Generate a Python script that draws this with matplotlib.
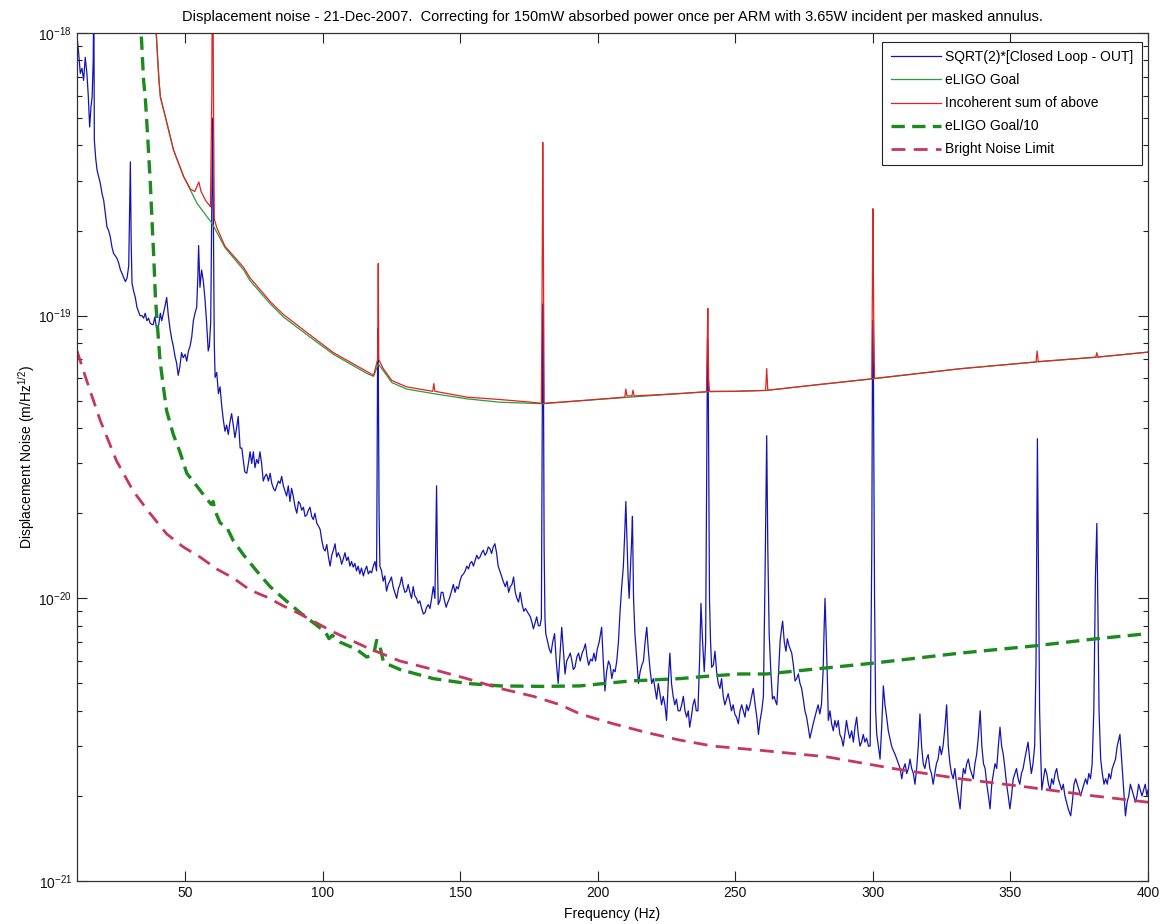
#!/usr/bin/env python3
# -*- coding: utf-8 -*-
"""
Displacement noise spectrum, 21-Dec-2007 (values read off the original plot).
All amplitudes below are in units of 1e-20 m/Hz^(1/2).
"""

import numpy as np
import matplotlib
matplotlib.use("Agg")
import matplotlib.pyplot as plt
from matplotlib.ticker import FixedLocator, NullFormatter, LogFormatterSciNotation

UNIT = 1e-20

# SQRT(2)*[Closed Loop - OUT]  (freq Hz, amplitude)
closed_loop = [
    (10.7, 97), (11.3, 85), (11.9, 72), (12.5, 75), (13.1, 68), (13.7, 82), (14.3, 72),
    (14.8, 60), (15.3, 46.5), (15.8, 55), (16.2, 59.5), (16.6, 80), (16.8, 150), (17.0, 41.8),
    (17.5, 36), (18.0, 32.7), (18.6, 31), (19.2, 29.3), (19.8, 27), (20.4, 25.6), (21.0, 23),
    (21.6, 20.6), (22.2, 20), (22.8, 19.0), (23.4, 17.5), (24.0, 16.6), (24.8, 16.2),
    (25.4, 15.8), (25.9, 15.3), (26.5, 14.5), (27.1, 14.1), (27.7, 13.6), (28.3, 13.2),
    (28.9, 13.6), (29.5, 15), (29.9, 26), (30.1, 35), (30.4, 18), (30.7, 13.0), (31.3, 12.2),
    (31.9, 11.6), (32.5, 10.7), (33.1, 10.3), (33.6, 10.0), (34.3, 10.0), (34.9, 9.8),
    (35.5, 10.2), (36.1, 9.6), (36.7, 9.8), (37.3, 9.4), (38.0, 9.3), (38.4, 9.3), (39.0, 9.9),
    (39.7, 8.9), (40.4, 9.3), (41.0, 10.2), (41.5, 9.6), (42.1, 10.2), (42.7, 10.8),
    (43.3, 11.6), (43.9, 10.0), (44.5, 9.0), (45.1, 8.3), (45.7, 7.8), (46.3, 7.2), (46.9, 6.8),
    (47.5, 6.15), (48.1, 6.6), (48.7, 7.4), (49.3, 7.1), (50.0, 7.3), (50.6, 6.9), (51.2, 7.5),
    (51.8, 7.8), (52.4, 8.4), (53.0, 9.6), (53.6, 10.2), (54.2, 10.7), (54.6, 13.5),
    (54.9, 17.7), (55.4, 12.6), (56.0, 14.5), (56.6, 13.3), (57.2, 11.5), (57.8, 9.5),
    (58.4, 7.5), (58.8, 7.8), (59.3, 9.5), (59.7, 25), (60.0, 50), (60.3, 20), (60.6, 8),
    (60.9, 6.05), (61.5, 6.3), (62.1, 5.3), (62.7, 5.6), (63.3, 4.8), (63.9, 4.27), (64.5, 3.9),
    (65.1, 4.1), (65.7, 3.8), (66.3, 4.2), (66.9, 4.5), (67.5, 4.1), (68.1, 3.7), (68.7, 4.0),
    (69.3, 4.4), (70.0, 3.4), (70.6, 3.4), (71.1, 3.1), (71.7, 2.8), (72.4, 2.77), (73.0, 3.0),
    (73.6, 3.3), (74.2, 3.0), (74.8, 3.3), (75.4, 2.9), (76.0, 3.1), (76.6, 3.0), (77.2, 3.3),
    (77.8, 3.0), (78.4, 2.6), (79.0, 2.7), (79.6, 2.75), (80.3, 2.6), (80.9, 2.77), (81.5, 2.55),
    (82.1, 2.45), (82.7, 2.4), (83.3, 2.5), (83.9, 2.6), (84.5, 2.55), (85.1, 2.7), (85.7, 2.5),
    (86.3, 2.4), (86.9, 2.3), (87.5, 2.5), (88.1, 2.2), (88.7, 2.45), (89.3, 2.3), (90.0, 2.1),
    (90.6, 2.0), (91.2, 2.2), (91.8, 2.16), (92.4, 2.05), (93.0, 2.1), (93.6, 1.95),
    (94.2, 1.97), (94.8, 2.05), (95.4, 2.1), (96.0, 1.95), (96.6, 1.9), (97.2, 2.0),
    (97.9, 1.84), (98.5, 1.8), (99.1, 1.75), (99.7, 1.6), (100.3, 1.5), (100.9, 1.47),
    (101.5, 1.55), (102.1, 1.4), (102.7, 1.3), (103.3, 1.42), (103.9, 1.48), (104.5, 1.56),
    (105.1, 1.4), (105.7, 1.45), (106.3, 1.4), (106.9, 1.32), (107.5, 1.38), (108.1, 1.45),
    (108.7, 1.36), (109.3, 1.4), (109.9, 1.3), (110.5, 1.35), (111.1, 1.29), (111.7, 1.33),
    (112.3, 1.25), (112.9, 1.3), (113.5, 1.22), (114.1, 1.28), (114.8, 1.2), (115.4, 1.26),
    (116.0, 1.3), (116.6, 1.22), (117.2, 1.25), (117.8, 1.23), (118.4, 1.3), (119.0, 1.35),
    (119.6, 1.25), (119.8, 3), (120.0, 9), (120.2, 7), (120.5, 2), (120.8, 1.3), (121.4, 1.25),
    (122.0, 1.15), (122.6, 1.2), (123.2, 1.06), (123.8, 1.12), (124.4, 1.15), (125.0, 1.19),
    (125.6, 1.1), (126.2, 1.05), (126.9, 1.0), (127.5, 1.08), (128.1, 1.12), (128.7, 1.19),
    (129.3, 1.1), (129.9, 1.05), (130.5, 1.06), (131.1, 1.12), (131.7, 1.05), (132.3, 1.0),
    (132.9, 1.1), (133.5, 1.02), (134.1, 1.0), (134.7, 0.96), (135.3, 0.98), (136.0, 0.92),
    (136.6, 0.88), (137.2, 0.89), (137.8, 0.93), (138.4, 0.95), (139.0, 0.92), (139.6, 1.0),
    (140.2, 1.1), (140.8, 1.0), (141.1, 1.6), (141.4, 2.5), (141.7, 1.4), (142.0, 0.95),
    (142.6, 0.98), (143.1, 1.05), (143.7, 1.05), (144.3, 0.98), (144.9, 0.93), (145.5, 0.97),
    (146.1, 1.0), (146.7, 1.05), (147.5, 1.12), (148.1, 1.05), (148.7, 1.1), (149.3, 1.08),
    (149.9, 1.15), (150.5, 1.2), (151.2, 1.22), (151.8, 1.25), (152.4, 1.3), (153.0, 1.27),
    (153.6, 1.33), (154.2, 1.35), (154.8, 1.3), (155.4, 1.36), (156.0, 1.42), (156.6, 1.38),
    (157.2, 1.4), (157.8, 1.45), (158.4, 1.48), (159.0, 1.42), (159.6, 1.45), (160.2, 1.52),
    (160.8, 1.5), (161.4, 1.44), (162.0, 1.52), (162.6, 1.56), (163.2, 1.45), (163.8, 1.3),
    (164.4, 1.25), (165.0, 1.2), (165.6, 1.15), (166.4, 1.1), (167.0, 1.15), (167.6, 1.05),
    (168.2, 1.1), (168.8, 1.12), (169.4, 1.19), (170.0, 1.05), (170.6, 1.0), (171.2, 0.97),
    (171.8, 1.05), (172.5, 0.95), (173.1, 0.9), (173.7, 0.92), (174.3, 0.9), (174.9, 0.88),
    (175.5, 0.86), (176.1, 0.82), (176.6, 0.78), (177.2, 0.82), (177.8, 0.86), (178.4, 0.8),
    (179.0, 0.8), (179.5, 0.85), (179.8, 4), (180.0, 11), (180.2, 8), (180.5, 1.5),
    (180.8, 0.85), (181.1, 0.75), (181.8, 0.7), (182.4, 0.66), (183.0, 0.64), (183.6, 0.7),
    (184.3, 0.75), (184.9, 0.6), (185.6, 0.5), (186.2, 0.62), (186.9, 0.79), (187.5, 0.65),
    (188.1, 0.54), (188.7, 0.6), (189.4, 0.62), (190.0, 0.64), (190.6, 0.6), (191.1, 0.56),
    (191.7, 0.57), (192.4, 0.62), (193.0, 0.64), (193.6, 0.6), (194.3, 0.64), (194.9, 0.66),
    (195.5, 0.69), (196.1, 0.62), (196.7, 0.58), (197.4, 0.61), (198.0, 0.6), (198.6, 0.64),
    (199.2, 0.6), (199.8, 0.66), (200.5, 0.7), (201.4, 0.79), (202.0, 0.6), (202.6, 0.47),
    (203.2, 0.55), (203.9, 0.6), (204.5, 0.58), (205.1, 0.52), (205.7, 0.56), (206.3, 0.55),
    (206.9, 0.6), (207.5, 0.7), (208.1, 0.9), (208.7, 1.1), (209.3, 1.3), (209.8, 1.7),
    (210.2, 2.2), (210.6, 1.6), (211.0, 1.2), (211.4, 1.0), (211.9, 1.3), (212.3, 1.6),
    (212.6, 1.95), (213.0, 1.0), (213.5, 0.75), (214.2, 0.6), (214.8, 0.5), (215.4, 0.55),
    (216.0, 0.58), (216.6, 0.6), (217.2, 0.7), (217.8, 0.79), (218.4, 0.65), (219.0, 0.56),
    (219.6, 0.5), (220.2, 0.52), (220.8, 0.48), (221.4, 0.44), (222.0, 0.5), (222.6, 0.46),
    (223.2, 0.42), (223.8, 0.45), (224.4, 0.42), (225.0, 0.37), (225.6, 0.5), (226.2, 0.64),
    (226.8, 0.5), (227.4, 0.45), (228.0, 0.42), (228.6, 0.44), (229.2, 0.4), (229.9, 0.4),
    (230.5, 0.42), (231.1, 0.45), (231.7, 0.4), (232.3, 0.38), (232.9, 0.4), (233.4, 0.35),
    (234.0, 0.38), (234.6, 0.42), (235.2, 0.44), (235.8, 0.4), (236.4, 0.4), (237.0, 0.6),
    (237.5, 0.96), (238.1, 0.7), (238.7, 0.55), (239.2, 0.7), (239.6, 3), (239.9, 8.3),
    (240.2, 5), (240.6, 1), (241.0, 0.7), (241.4, 0.57), (242.0, 0.58), (242.6, 0.65),
    (243.2, 0.55), (243.8, 0.5), (244.4, 0.48), (245.0, 0.52), (245.6, 0.45), (246.2, 0.42),
    (246.8, 0.44), (247.4, 0.46), (248.0, 0.43), (248.6, 0.4), (249.2, 0.42), (249.8, 0.39),
    (250.4, 0.38), (251.1, 0.36), (251.7, 0.4), (252.3, 0.42), (252.9, 0.4), (253.5, 0.38),
    (254.1, 0.42), (254.7, 0.4), (255.3, 0.42), (255.9, 0.45), (256.5, 0.48), (257.2, 0.42),
    (257.8, 0.38), (258.4, 0.33), (259.0, 0.37), (259.6, 0.4), (260.2, 0.45), (260.8, 1.2),
    (261.4, 3.76), (261.8, 1.5), (262.3, 0.75), (262.9, 0.55), (263.5, 0.44), (264.1, 0.45),
    (264.7, 0.43), (265.1, 0.42), (265.7, 0.55), (266.3, 0.71), (266.8, 0.78), (267.2, 0.83),
    (267.8, 0.7), (268.4, 0.65), (268.9, 0.72), (269.5, 0.68), (270.5, 0.64), (271.1, 0.58),
    (271.7, 0.51), (272.3, 0.52), (272.9, 0.54), (273.5, 0.5), (274.1, 0.48), (274.7, 0.44),
    (275.3, 0.4), (275.9, 0.38), (276.5, 0.35), (277.1, 0.32), (277.7, 0.34), (278.3, 0.36),
    (278.9, 0.38), (279.5, 0.4), (280.1, 0.42), (280.7, 0.39), (281.3, 0.42), (281.9, 0.55),
    (282.3, 0.8), (282.6, 1.0), (283.0, 0.75), (283.5, 0.5), (283.8, 0.37), (284.4, 0.4),
    (285.0, 0.36), (285.6, 0.34), (286.2, 0.37), (286.8, 0.35), (287.4, 0.37), (288.0, 0.33),
    (288.6, 0.32), (289.2, 0.3), (289.8, 0.33), (290.4, 0.37), (291.0, 0.34), (291.6, 0.32),
    (292.3, 0.34), (292.9, 0.31), (293.5, 0.35), (294.1, 0.38), (294.7, 0.33), (295.3, 0.3),
    (295.9, 0.31), (296.5, 0.33), (297.1, 0.31), (297.7, 0.32), (298.4, 0.3), (299.0, 0.3),
    (299.6, 1.5), (299.9, 9.6), (300.2, 6), (300.6, 1), (301.0, 0.4), (301.4, 0.33),
    (302.0, 0.3), (302.6, 0.27), (303.2, 0.35), (303.8, 0.49), (304.4, 0.42), (305.0, 0.38),
    (305.6, 0.34), (306.2, 0.32), (306.8, 0.3), (307.4, 0.29), (308.1, 0.28), (308.7, 0.27),
    (309.3, 0.26), (309.9, 0.25), (310.5, 0.23), (311.1, 0.25), (311.7, 0.26), (312.3, 0.24),
    (312.9, 0.25), (313.5, 0.27), (314.1, 0.25), (314.7, 0.24), (315.3, 0.22), (315.9, 0.25),
    (316.5, 0.3), (317.1, 0.39), (317.7, 0.3), (318.3, 0.26), (318.9, 0.25), (319.5, 0.27),
    (320.1, 0.28), (320.7, 0.25), (321.3, 0.24), (321.9, 0.22), (322.5, 0.24), (323.1, 0.26),
    (323.7, 0.27), (324.3, 0.3), (324.9, 0.28), (325.5, 0.3), (326.2, 0.35), (326.8, 0.42),
    (327.4, 0.3), (328.0, 0.26), (328.6, 0.24), (329.2, 0.23), (329.8, 0.25), (330.4, 0.22),
    (331.0, 0.2), (331.7, 0.18), (332.3, 0.22), (332.9, 0.25), (333.5, 0.24), (334.1, 0.26),
    (334.7, 0.27), (335.3, 0.25), (335.9, 0.24), (336.5, 0.23), (337.1, 0.26), (337.7, 0.28),
    (338.3, 0.32), (339.0, 0.4), (339.6, 0.3), (340.2, 0.26), (340.8, 0.25), (341.4, 0.22),
    (342.0, 0.2), (342.6, 0.18), (343.2, 0.22), (343.8, 0.24), (344.4, 0.26), (345.0, 0.25),
    (345.6, 0.3), (346.2, 0.35), (346.8, 0.3), (347.4, 0.28), (348.0, 0.25), (348.6, 0.22),
    (349.2, 0.2), (349.8, 0.18), (350.4, 0.2), (351.0, 0.23), (351.6, 0.24), (352.2, 0.25),
    (352.8, 0.23), (353.4, 0.22), (354.0, 0.24), (354.6, 0.25), (355.2, 0.27), (355.8, 0.29),
    (356.4, 0.31), (357.0, 0.27), (357.6, 0.24), (358.2, 0.26), (358.8, 0.3), (359.3, 0.6),
    (359.8, 3.67), (360.2, 1.2), (360.6, 0.4), (361.0, 0.28), (361.4, 0.21), (362.0, 0.23),
    (362.6, 0.25), (363.2, 0.24), (363.8, 0.22), (364.4, 0.21), (365.0, 0.23), (365.6, 0.22),
    (366.2, 0.24), (366.8, 0.25), (367.4, 0.23), (368.0, 0.22), (368.6, 0.21), (369.2, 0.22),
    (369.8, 0.2), (370.4, 0.19), (371.0, 0.18), (371.9, 0.17), (372.5, 0.19), (373.1, 0.22),
    (373.7, 0.23), (374.3, 0.22), (374.9, 0.21), (375.5, 0.2), (376.1, 0.21), (376.7, 0.22),
    (377.3, 0.23), (377.9, 0.22), (378.5, 0.24), (379.1, 0.23), (379.7, 0.26), (380.3, 0.4),
    (380.9, 1.2), (381.4, 1.84), (381.8, 0.9), (382.2, 0.4), (382.8, 0.27), (383.4, 0.24),
    (384.0, 0.22), (384.6, 0.23), (385.2, 0.22), (385.8, 0.24), (386.4, 0.23), (387.0, 0.25),
    (387.6, 0.26), (388.2, 0.27), (388.8, 0.3), (389.8, 0.33), (390.4, 0.27), (391.0, 0.22),
    (391.8, 0.17), (392.4, 0.19), (393.0, 0.2), (393.6, 0.22), (394.2, 0.21), (394.8, 0.2),
    (395.4, 0.19), (396.0, 0.2), (396.6, 0.22), (397.2, 0.21), (397.8, 0.2), (398.4, 0.21),
    (399.0, 0.22), (399.6, 0.2), (400.0, 0.21),
]

# eLIGO Goal
eligo_goal = [
    (38.8, 130), (39.5, 100), (40.0, 82), (40.5, 68), (41.0, 59.4), (42.8, 50.6), (45.8, 38.5),
    (49.5, 31.0), (54.3, 25.0), (59.8, 21.2), (64.5, 17.4), (71.3, 14.5), (73.6, 13.3),
    (81.0, 11.0), (85.7, 9.9), (95.4, 8.4), (103.9, 7.3), (110.0, 6.75), (116.0, 6.25),
    (118.5, 6.1), (120.2, 6.76), (122.0, 6.4), (125.1, 5.8), (130.5, 5.5), (140.2, 5.3),
    (152.4, 5.08), (164.5, 4.94), (180.2, 4.88), (193.5, 5.0), (211.7, 5.15), (229.6, 5.3),
    (239.6, 5.38), (250.0, 5.4), (261.4, 5.44), (280.0, 5.7), (300.2, 5.98), (331.7, 6.49),
    (359.5, 6.86), (381.4, 7.13), (400.0, 7.43),
]

# Incoherent sum of above
incoherent_sum = [
    (38.8, 130), (39.5, 100), (40.0, 82), (40.5, 68), (41.0, 59.4), (42.8, 50.6), (45.8, 38.5),
    (49.5, 31.0), (52.0, 28.0), (53.5, 27.5), (55.0, 29.7), (55.8, 27.5), (57.5, 25.5),
    (59.2, 24.3), (59.7, 60), (60.0, 300), (60.3, 60), (60.6, 22), (61.5, 20.5), (64.5, 17.6),
    (71.3, 14.8), (73.6, 13.6), (81.0, 11.2), (85.7, 10.1), (95.4, 8.55), (103.9, 7.4),
    (110.0, 6.85), (116.0, 6.35), (118.5, 6.15), (120.0, 7.0), (120.2, 15.3), (120.4, 7.0),
    (122.0, 6.5), (125.1, 5.9), (130.5, 5.6), (140.0, 5.4), (140.4, 5.75), (140.8, 5.4),
    (152.4, 5.15), (164.5, 5.05), (175.0, 4.95), (179.5, 4.9), (179.8, 15), (180.0, 41),
    (180.2, 20), (180.5, 4.9), (193.5, 5.0), (209.8, 5.15), (210.2, 5.5), (210.6, 5.2),
    (212.4, 5.2), (212.8, 5.45), (213.2, 5.2), (229.6, 5.3), (239.5, 5.38), (239.8, 8),
    (240.0, 10.6), (240.3, 6), (240.6, 5.4), (250.0, 5.4), (261.0, 5.44), (261.4, 6.5),
    (261.8, 5.45), (280.0, 5.7), (299.6, 5.98), (299.8, 12), (300.0, 23.9), (300.3, 10),
    (300.6, 6.0), (331.7, 6.49), (359.3, 6.86), (359.7, 7.5), (360.1, 6.88), (381.0, 7.13),
    (381.4, 7.4), (381.8, 7.14), (400.0, 7.43),
]

# eLIGO Goal/10
eligo_goal_10 = [
    (33.8, 115), (34.1, 97), (34.9, 68), (35.5, 59.5), (36.1, 48), (36.8, 36.5), (37.3, 30.2),
    (37.9, 22.4), (38.6, 16.1), (39.2, 11.6), (39.8, 9.6), (40.9, 6.9), (42.1, 5.6), (43.3, 4.6),
    (45.7, 3.8), (48.1, 3.3), (50.6, 2.77), (54.2, 2.5), (57.8, 2.25), (59.5, 2.15),
    (60.2, 2.2), (60.8, 2.05), (62.7, 1.85), (65.2, 1.78), (67.5, 1.6), (71.1, 1.43),
    (76.0, 1.25), (80.9, 1.1), (85.7, 1.0), (91.8, 0.89), (96.6, 0.82), (101.0, 0.76),
    (102.3, 0.72), (103.5, 0.74), (106.3, 0.7), (112.3, 0.66), (116.0, 0.62), (118.5, 0.63),
    (119.6, 0.71), (120.5, 0.7), (122.0, 0.6), (122.7, 0.59), (128.1, 0.56), (140.2, 0.52),
    (152.4, 0.50), (164.5, 0.49), (180.0, 0.488), (193.5, 0.49), (211.7, 0.51), (229.9, 0.52),
    (239.6, 0.53), (251.6, 0.54), (261.4, 0.54), (300.2, 0.59), (331.7, 0.64), (359.5, 0.68),
    (381.4, 0.72), (400.0, 0.75),
]

# Bright Noise Limit
bright_noise = [
    (10.7, 7.5), (11.2, 7.25), (14.2, 5.9), (19.1, 4.27), (25.1, 3.06), (31.2, 2.39),
    (37.2, 2.0), (43.3, 1.69), (49.3, 1.52), (55.4, 1.4), (61.5, 1.27), (67.5, 1.18),
    (73.6, 1.07), (79.7, 1.01), (85.7, 0.94), (91.8, 0.88), (103.9, 0.76), (116.0, 0.67),
    (128.1, 0.60), (140.2, 0.56), (152.4, 0.52), (164.5, 0.48), (176.6, 0.45), (186.4, 0.42),
    (193.5, 0.39), (205.6, 0.36), (217.8, 0.335), (229.9, 0.315), (242.0, 0.30), (259.0, 0.29),
    (283.2, 0.275), (307.4, 0.25), (331.7, 0.23), (356.0, 0.215), (380.3, 0.20), (400.0, 0.19),
]

x_ticks = [50, 100, 150, 200, 250, 300, 350, 400]
y_ticks = [1e-21, 1e-20, 1e-19, 1e-18]

TITLE = ("Displacement noise - 21-Dec-2007.  Correcting for 150mW absorbed power once per "
         "ARM with 3.65W incident per masked annulus.")


def xy(pts):
    a = np.array(pts, dtype=float)
    return a[:, 0], a[:, 1] * UNIT


def main():
    plt.rcParams["font.family"] = ["Liberation Sans", "DejaVu Sans"]
    plt.rcParams["mathtext.fontset"] = "custom"
    plt.rcParams["mathtext.rm"] = "Liberation Sans"
    plt.rcParams["mathtext.it"] = "Liberation Sans:italic"
    plt.rcParams["font.size"] = 10

    fig = plt.figure(figsize=(11.7, 9.24), dpi=100)
    ax = fig.add_axes([77 / 1170, 1 - 881 / 924, (1148 - 77) / 1170, (881 - 33) / 924])

    ax.plot(*xy(closed_loop), color="#1414b4", lw=0.9, label="SQRT(2)*[Closed Loop - OUT]")
    ax.plot(*xy(eligo_goal), color="#2e9a3a", lw=0.9, label="eLIGO Goal")
    ax.plot(*xy(incoherent_sum), color="#e02424", lw=0.9, label="Incoherent sum of above")
    ax.plot(*xy(eligo_goal_10), color="#1c8a1c", lw=2.4, dashes=(4, 2.2), label="eLIGO Goal/10")
    ax.plot(*xy(bright_noise), color="#c8365c", lw=2.0, dashes=(5, 3), label="Bright Noise Limit")

    ax.set_yscale("log")
    ax.set_xlim(10.7, 400)
    ax.set_ylim(1e-21, 1e-18)
    ax.xaxis.set_major_locator(FixedLocator(x_ticks))
    ax.yaxis.set_major_locator(FixedLocator(y_ticks))
    ax.yaxis.set_major_formatter(LogFormatterSciNotation())
    minors = [m * d for d in (1e-21, 1e-20, 1e-19) for m in range(2, 10)]
    ax.yaxis.set_minor_locator(FixedLocator(minors))
    ax.yaxis.set_minor_formatter(NullFormatter())

    ax.tick_params(which="both", direction="in", top=True, right=True, colors="#222222",
                   labelcolor="#111111", labelsize=10)
    ax.tick_params(which="major", length=7, width=0.8)
    ax.tick_params(which="minor", length=3.5, width=0.8)
    for sp in ax.spines.values():
        sp.set_color("#333333")
        sp.set_linewidth(0.9)

    ax.set_title(TITLE, fontsize=10.5, pad=9)
    ax.set_xlabel("Frequency (Hz)", fontsize=10, labelpad=5)
    ax.set_ylabel("Displacement Noise (m/Hz$^{1/2}$)", fontsize=10, labelpad=1)

    leg = ax.legend(loc="upper right", bbox_to_anchor=(0.9944, 0.9894), fontsize=10,
                    frameon=True, fancybox=False, framealpha=1, edgecolor="#222222",
                    borderpad=0.6, labelspacing=0.65, handlelength=3.6, handletextpad=0.35,
                    borderaxespad=0)
    leg.get_frame().set_linewidth(0.8)

    fig.savefig("out.png", dpi=100)


if __name__ == "__main__":
    main()
